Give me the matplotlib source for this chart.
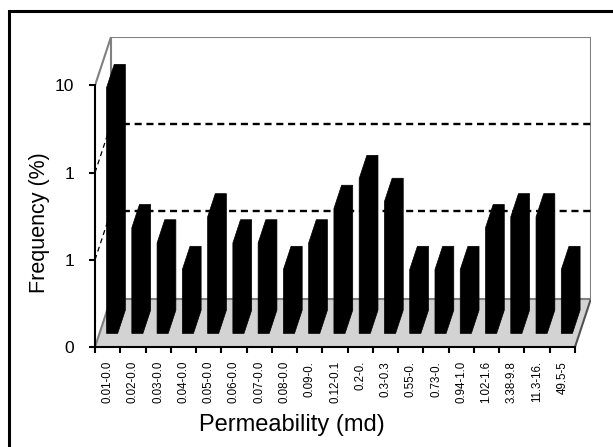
import numpy as np
import matplotlib
matplotlib.use("Agg")
import matplotlib.pyplot as plt
from matplotlib.patches import Polygon, Rectangle
from matplotlib import font_manager

# permeability classes and frequency (%)
classes = ['0.01-0.0', '0.02-0.0', '0.03-0.0', '0.04-0.0', '0.05-0.0', '0.06-0.0',
           '0.07-0.0', '0.08-0.0', '0.09-0.', '0.12-0.1', '0.2-0.', '0.3-0.3',
           '0.55-0.', '0.73-0.', '0.94-1.0', '1.02-1.6', '3.38-9.8', '11.3-16.', '49.5-5']
freq = [6.6, 0.163, 0.109, 0.054, 0.217, 0.109, 0.109, 0.054, 0.109, 0.271,
        0.597, 0.326, 0.054, 0.054, 0.054, 0.163, 0.217, 0.217, 0.054]
ytick_vals = [0.01, 0.1, 1, 10]
ytick_text = ['0', '1', '1', '10']

names = {f.name for f in font_manager.fontManager.ttflist}
sans = 'Liberation Sans' if 'Liberation Sans' in names else 'DejaVu Sans'

# pseudo 3d geometry: depth shift in category units / decades
DX = 0.633
D = 0.556
f0, f1 = 0.28, 0.76
bw = 0.44
ymin = 0.01
ytop = 10 * 10 ** D
n = len(classes)
x0, x1 = -0.5, n - 0.5


def at(x, y, f):
    return (x + f * DX, y * 10 ** (f * D))


W, H = 613, 447
fig = plt.figure(figsize=(W / 100, H / 100), dpi=100)
fig.patches.append(Rectangle((9 / W, -0.05), 1.1, (H - 11) / H + 0.05, transform=fig.transFigure,
                             fill=False, edgecolor='black', linewidth=2.2))

ax = fig.add_axes([95 / W, (H - 347) / H, (591 - 95) / W, (347 - 37) / H])
ax.set_yscale('log')
ax.set_xlim(x0, x1 + DX)
ax.set_ylim(ymin, ytop)
ax.patch.set_visible(False)

wall = '#808080'
# floor
ax.add_patch(Polygon([at(x0, ymin, 0), at(x1, ymin, 0), at(x1, ymin, 1), at(x0, ymin, 1)],
                     closed=True, facecolor='#d3d3d3', edgecolor='none', zorder=1))
ax.plot(*zip(at(x0, ymin, 1), at(x1, ymin, 1)), color=wall, lw=1.5, zorder=2)
ax.plot(*zip(at(x0, ymin, 0), at(x0, ymin, 1)), color=wall, lw=1.5, zorder=2)
ax.plot(*zip(at(x1, ymin, 0), at(x1, ymin, 1)), color='#505050', lw=1.5, zorder=2)
# back wall and side wall edges
ax.plot(*zip(at(x0, ymin, 1), at(x0, 10, 1), at(x1, 10, 1), at(x1, ymin, 1)),
        color=wall, lw=1.5, zorder=2)
ax.plot(*zip(at(x0, 10, 0), at(x0, 10, 1)), color=wall, lw=1.5, zorder=2)

# gridlines on back wall and side wall
for v in [0.1, 1]:
    ax.plot(*zip(at(x0, v, 1), at(x1, v, 1)), color='black', lw=1.7,
            dashes=(3, 2), zorder=2)
    ax.plot(*zip(at(x0, v, 0), at(x0, v, 1)), color='black', lw=0.9,
            dashes=(4, 3), zorder=2)

# bars
for i, v in enumerate(freq):
    xl, xr = i - bw / 2, i + bw / 2
    pts = [at(xl, ymin, f0), at(xl, v, f0), at(xl, v, f1), at(xr, v, f1),
           at(xr, ymin, f1), at(xr, ymin, f0)]
    ax.add_patch(Polygon(pts, closed=True, facecolor='black', edgecolor='black',
                         linewidth=0.5, zorder=3))

for s in ['top', 'right']:
    ax.spines[s].set_visible(False)
ax.spines['left'].set_bounds(ymin, 10)
ax.spines['bottom'].set_bounds(x0, x1)
ax.spines['left'].set_linewidth(1.5)
ax.spines['bottom'].set_linewidth(1.5)
ax.spines['bottom'].set_zorder(4)

ax.set_yticks(ytick_vals)
ax.set_yticklabels(ytick_text, fontsize=12.5, family=sans)
ax.yaxis.set_minor_locator(matplotlib.ticker.NullLocator())
ax.tick_params(axis='y', which='major', length=4, width=1.5, pad=11)

ax.set_xticks(np.arange(n + 1) - 0.5)
ax.set_xticklabels([])
ax.set_xticks(np.arange(n), minor=True)
ax.set_xticklabels(classes, minor=True, rotation=90, fontsize=8.3, family=sans)
ax.tick_params(axis='x', which='major', length=4, width=1.5)
ax.tick_params(axis='x', which='minor', length=0, pad=10)

fig.text(39 / W, 1 - 223 / H, 'Frequency (%)', rotation=90, ha='center', va='center',
         fontsize=15.5, family=sans)
fig.text(292 / W, 1 - 425 / H, 'Permeability (md)', ha='center', va='center',
         fontsize=17, family=sans)

fig.savefig('out.png', dpi=100)
